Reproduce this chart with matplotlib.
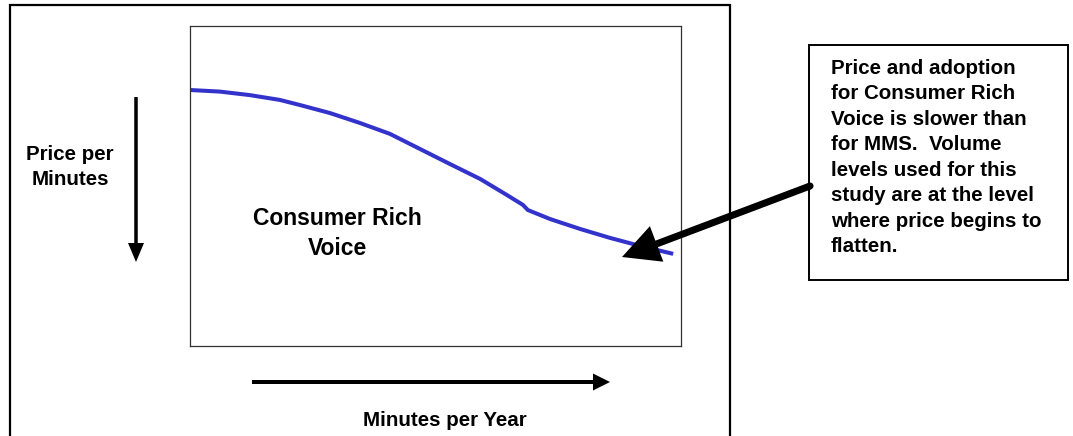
import matplotlib
matplotlib.use("Agg")
import matplotlib.pyplot as plt
from matplotlib.patches import Rectangle, Circle

# Price curve: minutes per year (x) vs price per minute (y), in relative units 0-100
minutes = [0, 6.1, 12.2, 18.3, 22.4, 28.5, 34.6, 40.7, 46.8, 52.9, 59.1,
           64.2, 67.8, 68.8, 73.3, 79.4, 85.5, 91.6, 98.4]
price = [80.0, 79.5, 78.4, 76.9, 75.3, 72.8, 69.7, 66.3, 61.6, 56.9, 52.2,
         47.5, 44.1, 42.5, 39.7, 36.6, 33.8, 31.3, 28.8]

curve_label = "Consumer Rich\nVoice"
y_label = "Price per\nMinutes"
x_label = "Minutes per Year"
note = ("Price and adoption\nfor Consumer Rich\nVoice is slower than\n"
        "for MMS.  Volume\nlevels used for this\nstudy are at the level\n"
        "where price begins to\nflatten.")

W, H = 1073, 436
fig = plt.figure(figsize=(W / 100, H / 100), dpi=100)

font = dict(family=["Liberation Sans", "DejaVu Sans"], fontweight="bold", color="black")

# Chart panel
left, top, right, bottom = 190, 26, 681, 346
ax = fig.add_axes([left / W, 1 - bottom / H, (right - left) / W, (bottom - top) / H])
ax.plot(minutes, price, color="#3333cc", lw=2.9, solid_capstyle="butt",
        solid_joinstyle="round")
ax.set_xlim(0, 100)
ax.set_ylim(0, 100)
ax.set_xticks([])
ax.set_yticks([])
for s in ax.spines.values():
    s.set_color("#333333")
    s.set_linewidth(0.9)
ax.text(30.1, 35.2, curve_label, ha="center", va="center", fontsize=16.5,
        linespacing=1.35, **font)

# Canvas layer in pixel units for the frame, arrows and labels (drawn on top)
canvas = fig.add_axes([0, 0, 1, 1])
canvas.set_xlim(0, W)
canvas.set_ylim(H, 0)
canvas.axis("off")
canvas.patch.set_alpha(0)
canvas.set_zorder(3)

# Outer frame (open at the bottom edge of the image)
canvas.plot([10, 10, 730, 730], [H + 5, 5, 5, H + 5], color="black", lw=1.6,
            solid_joinstyle="miter")

# Axis direction arrows
canvas.arrow(136, 97, 0, 165, width=3.5, head_width=16, head_length=19,
             length_includes_head=True, color="black", lw=0)
canvas.arrow(252, 382, 358, 0, width=4, head_width=17, head_length=17,
             length_includes_head=True, color="black", lw=0)

canvas.text(70, 167, y_label, ha="center", va="center", fontsize=14.8,
            linespacing=1.38, **font)
canvas.text(445, 420, x_label, ha="center", va="center", fontsize=14.8, **font)

# Note box with pointer to the flattening part of the curve
canvas.add_patch(Rectangle((809, 45), 1068 - 809, 280 - 45, fill=False,
                           edgecolor="black", lw=1.4))
canvas.text(831, 59, note, ha="left", va="top", fontsize=14.8,
            linespacing=1.43, **font)
canvas.arrow(810, 186, 622 - 810, 257 - 186, width=7, head_width=38,
             head_length=37, length_includes_head=True, color="black", lw=0)
canvas.add_patch(Circle((810, 186), 3.5, color="black", lw=0))

fig.savefig("out.png", dpi=100)
